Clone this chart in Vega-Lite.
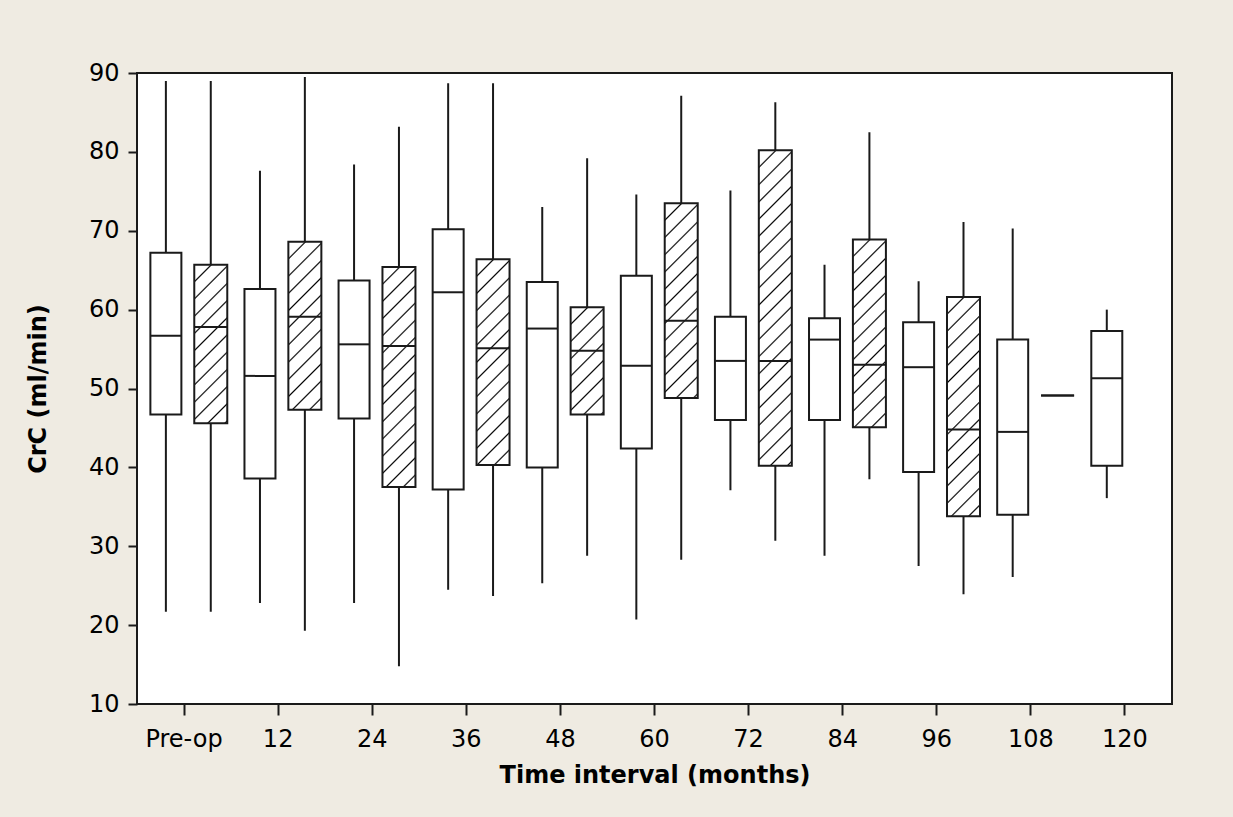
{
  "$schema": "https://vega.github.io/schema/vega-lite/v6.json",
  "usermeta": {"embedOptions": {"actions": false}},
  "autosize": {"type": "none"},
  "padding": {"left": 137, "top": 73, "right": 61, "bottom": 113},
  "width": 1035,
  "height": 631,
  "background": "#EFEBE2",
  "config": {
    "view": {"fill": "white", "stroke": "#1a1a1a", "strokeWidth": 2},
    "font": "DejaVu Sans",
    "axis": {
      "domain": false, "grid": false, "tickColor": "#1a1a1a", "tickWidth": 2,
      "labelFont": "DejaVu Sans", "labelFontSize": 24, "labelColor": "#000",
      "titleFont": "DejaVu Sans", "titleFontSize": 24, "titleFontWeight": "bold", "titleColor": "#000"
    }
  },
  "data": {"values": [
    {"interval": "Pre-op", "group": "A", "lower": 21.7, "q1": 46.7, "median": 56.7, "q3": 67.2, "upper": 89.0},
    {"interval": "Pre-op", "group": "B", "lower": 21.7, "q1": 45.6, "median": 57.8, "q3": 65.7, "upper": 89.0},
    {"interval": "12", "group": "A", "lower": 22.8, "q1": 38.6, "median": 51.6, "q3": 62.6, "upper": 77.6},
    {"interval": "12", "group": "B", "lower": 19.3, "q1": 47.3, "median": 59.1, "q3": 68.6, "upper": 89.5},
    {"interval": "24", "group": "A", "lower": 22.8, "q1": 46.2, "median": 55.6, "q3": 63.7, "upper": 78.4},
    {"interval": "24", "group": "B", "lower": 14.8, "q1": 37.5, "median": 55.4, "q3": 65.4, "upper": 83.2},
    {"interval": "36", "group": "A", "lower": 24.5, "q1": 37.2, "median": 62.2, "q3": 70.2, "upper": 88.7},
    {"interval": "36", "group": "B", "lower": 23.7, "q1": 40.3, "median": 55.1, "q3": 66.4, "upper": 88.7},
    {"interval": "48", "group": "A", "lower": 25.3, "q1": 40.0, "median": 57.6, "q3": 63.5, "upper": 73.0},
    {"interval": "48", "group": "B", "lower": 28.8, "q1": 46.7, "median": 54.8, "q3": 60.3, "upper": 79.2},
    {"interval": "60", "group": "A", "lower": 20.7, "q1": 42.4, "median": 52.9, "q3": 64.3, "upper": 74.6},
    {"interval": "60", "group": "B", "lower": 28.3, "q1": 48.8, "median": 58.6, "q3": 73.5, "upper": 87.1},
    {"interval": "72", "group": "A", "lower": 37.1, "q1": 46.0, "median": 53.5, "q3": 59.1, "upper": 75.1},
    {"interval": "72", "group": "B", "lower": 30.7, "q1": 40.2, "median": 53.5, "q3": 80.2, "upper": 86.3},
    {"interval": "84", "group": "A", "lower": 28.8, "q1": 46.0, "median": 56.2, "q3": 58.9, "upper": 65.7},
    {"interval": "84", "group": "B", "lower": 38.5, "q1": 45.1, "median": 53.0, "q3": 68.9, "upper": 82.5},
    {"interval": "96", "group": "A", "lower": 27.5, "q1": 39.4, "median": 52.7, "q3": 58.4, "upper": 63.6},
    {"interval": "96", "group": "B", "lower": 23.9, "q1": 33.8, "median": 44.8, "q3": 61.6, "upper": 71.1},
    {"interval": "108", "group": "A", "lower": 26.1, "q1": 34.0, "median": 44.5, "q3": 56.2, "upper": 70.3},
    {"interval": "108", "group": "B", "lower": 49.1, "q1": 49.1, "median": 49.1, "q3": 49.1, "upper": 49.1},
    {"interval": "120", "group": "A", "lower": 36.1, "q1": 40.2, "median": 51.3, "q3": 57.3, "upper": 60.0}
  ]},
  "encoding": {
    "x": {
      "field": "interval", "type": "ordinal",
      "sort": ["Pre-op", "12", "24", "36", "48", "60", "72", "84", "96", "108", "120"],
      "scale": {"paddingInner": 0, "paddingOuter": 0},
      "axis": {"title": "Time interval (months)", "labelAngle": 0, "tickSize": 11, "labelPadding": 12, "titlePadding": 12}
    },
    "xOffset": {
      "field": "group", "type": "nominal",
      "scale": {"domain": ["A", "B"], "paddingInner": 0.5, "paddingOuter": 0.298, "align": 0.66}
    }
  },
  "layer": [
    {
      "mark": {"type": "rule", "color": "#1a1a1a", "strokeWidth": 2, "opacity": 1},
      "encoding": {
        "y": {"field": "lower", "type": "quantitative", "title": "CrC (ml/min)",
              "scale": {"domain": [10, 90], "nice": false, "zero": false},
              "axis": {"values": [10, 20, 30, 40, 50, 60, 70, 80, 90], "tickSize": 9, "labelPadding": 9, "titlePadding": 38}},
        "y2": {"field": "upper"}
      }
    },
    {
      "transform": [{"filter": "datum.group === 'A'"}],
      "mark": {"type": "bar", "width": 31, "fill": "white", "stroke": "#1a1a1a", "strokeWidth": 2, "opacity": 1},
      "encoding": {
        "y": {"field": "q1", "type": "quantitative", "title": "CrC (ml/min)"},
        "y2": {"field": "q3"}
      }
    },
    {
      "transform": [{"filter": "datum.group === 'B'"}],
      "mark": {"type": "bar", "width": 33, "stroke": "#1a1a1a", "strokeWidth": 2, "opacity": 1},
      "encoding": {
        "y": {"field": "q1", "type": "quantitative", "title": "CrC (ml/min)"},
        "y2": {"field": "q3"},
        "fill": {
          "condition": [
            {"test": "datum.interval === 'Pre-op'", "value": {"gradient": "linear", "x1": 0, "y1": 0, "x2": 0.4545, "y2": 2.1837, "stops": [{"offset":0.0431,"color":"#fff"},{"offset":0.0476,"color":"#000"},{"offset":0.0521,"color":"#fff"},{"offset":0.0907,"color":"#fff"},{"offset":0.0952,"color":"#000"},{"offset":0.0997,"color":"#fff"},{"offset":0.1384,"color":"#fff"},{"offset":0.1429,"color":"#000"},{"offset":0.1474,"color":"#fff"},{"offset":0.186,"color":"#fff"},{"offset":0.1905,"color":"#000"},{"offset":0.195,"color":"#fff"},{"offset":0.2336,"color":"#fff"},{"offset":0.2381,"color":"#000"},{"offset":0.2426,"color":"#fff"},{"offset":0.2812,"color":"#fff"},{"offset":0.2857,"color":"#000"},{"offset":0.2902,"color":"#fff"},{"offset":0.3288,"color":"#fff"},{"offset":0.3333,"color":"#000"},{"offset":0.3378,"color":"#fff"},{"offset":0.3765,"color":"#fff"},{"offset":0.381,"color":"#000"},{"offset":0.3855,"color":"#fff"},{"offset":0.4241,"color":"#fff"},{"offset":0.4286,"color":"#000"},{"offset":0.4331,"color":"#fff"},{"offset":0.4717,"color":"#fff"},{"offset":0.4762,"color":"#000"},{"offset":0.4807,"color":"#fff"},{"offset":0.5193,"color":"#fff"},{"offset":0.5238,"color":"#000"},{"offset":0.5283,"color":"#fff"},{"offset":0.5669,"color":"#fff"},{"offset":0.5714,"color":"#000"},{"offset":0.5759,"color":"#fff"},{"offset":0.6145,"color":"#fff"},{"offset":0.619,"color":"#000"},{"offset":0.6235,"color":"#fff"},{"offset":0.6622,"color":"#fff"},{"offset":0.6667,"color":"#000"},{"offset":0.6712,"color":"#fff"},{"offset":0.7098,"color":"#fff"},{"offset":0.7143,"color":"#000"},{"offset":0.7188,"color":"#fff"},{"offset":0.7574,"color":"#fff"},{"offset":0.7619,"color":"#000"},{"offset":0.7664,"color":"#fff"},{"offset":0.805,"color":"#fff"},{"offset":0.8095,"color":"#000"},{"offset":0.814,"color":"#fff"},{"offset":0.8526,"color":"#fff"},{"offset":0.8571,"color":"#000"},{"offset":0.8616,"color":"#fff"},{"offset":0.9003,"color":"#fff"},{"offset":0.9048,"color":"#000"},{"offset":0.9093,"color":"#fff"},{"offset":0.9479,"color":"#fff"},{"offset":0.9524,"color":"#000"},{"offset":0.9569,"color":"#fff"}]}},
            {"test": "datum.interval === '12'", "value": {"gradient": "linear", "x1": 0, "y1": 0, "x2": 0.4066, "y2": 2.0701, "stops": [{"offset":0.0431,"color":"#fff"},{"offset":0.0476,"color":"#000"},{"offset":0.0521,"color":"#fff"},{"offset":0.0907,"color":"#fff"},{"offset":0.0952,"color":"#000"},{"offset":0.0997,"color":"#fff"},{"offset":0.1384,"color":"#fff"},{"offset":0.1429,"color":"#000"},{"offset":0.1474,"color":"#fff"},{"offset":0.186,"color":"#fff"},{"offset":0.1905,"color":"#000"},{"offset":0.195,"color":"#fff"},{"offset":0.2336,"color":"#fff"},{"offset":0.2381,"color":"#000"},{"offset":0.2426,"color":"#fff"},{"offset":0.2812,"color":"#fff"},{"offset":0.2857,"color":"#000"},{"offset":0.2902,"color":"#fff"},{"offset":0.3288,"color":"#fff"},{"offset":0.3333,"color":"#000"},{"offset":0.3378,"color":"#fff"},{"offset":0.3765,"color":"#fff"},{"offset":0.381,"color":"#000"},{"offset":0.3855,"color":"#fff"},{"offset":0.4241,"color":"#fff"},{"offset":0.4286,"color":"#000"},{"offset":0.4331,"color":"#fff"},{"offset":0.4717,"color":"#fff"},{"offset":0.4762,"color":"#000"},{"offset":0.4807,"color":"#fff"},{"offset":0.5193,"color":"#fff"},{"offset":0.5238,"color":"#000"},{"offset":0.5283,"color":"#fff"},{"offset":0.5669,"color":"#fff"},{"offset":0.5714,"color":"#000"},{"offset":0.5759,"color":"#fff"},{"offset":0.6145,"color":"#fff"},{"offset":0.619,"color":"#000"},{"offset":0.6235,"color":"#fff"},{"offset":0.6622,"color":"#fff"},{"offset":0.6667,"color":"#000"},{"offset":0.6712,"color":"#fff"},{"offset":0.7098,"color":"#fff"},{"offset":0.7143,"color":"#000"},{"offset":0.7188,"color":"#fff"},{"offset":0.7574,"color":"#fff"},{"offset":0.7619,"color":"#000"},{"offset":0.7664,"color":"#fff"},{"offset":0.805,"color":"#fff"},{"offset":0.8095,"color":"#000"},{"offset":0.814,"color":"#fff"},{"offset":0.8526,"color":"#fff"},{"offset":0.8571,"color":"#000"},{"offset":0.8616,"color":"#fff"},{"offset":0.9003,"color":"#fff"},{"offset":0.9048,"color":"#000"},{"offset":0.9093,"color":"#fff"},{"offset":0.9479,"color":"#fff"},{"offset":0.9524,"color":"#000"},{"offset":0.9569,"color":"#fff"}]}},
            {"test": "datum.interval === '24'", "value": {"gradient": "linear", "x1": 0, "y1": 0, "x2": 0.2407, "y2": 1.6053, "stops": [{"offset":0.0431,"color":"#fff"},{"offset":0.0476,"color":"#000"},{"offset":0.0521,"color":"#fff"},{"offset":0.0907,"color":"#fff"},{"offset":0.0952,"color":"#000"},{"offset":0.0997,"color":"#fff"},{"offset":0.1384,"color":"#fff"},{"offset":0.1429,"color":"#000"},{"offset":0.1474,"color":"#fff"},{"offset":0.186,"color":"#fff"},{"offset":0.1905,"color":"#000"},{"offset":0.195,"color":"#fff"},{"offset":0.2336,"color":"#fff"},{"offset":0.2381,"color":"#000"},{"offset":0.2426,"color":"#fff"},{"offset":0.2812,"color":"#fff"},{"offset":0.2857,"color":"#000"},{"offset":0.2902,"color":"#fff"},{"offset":0.3288,"color":"#fff"},{"offset":0.3333,"color":"#000"},{"offset":0.3378,"color":"#fff"},{"offset":0.3765,"color":"#fff"},{"offset":0.381,"color":"#000"},{"offset":0.3855,"color":"#fff"},{"offset":0.4241,"color":"#fff"},{"offset":0.4286,"color":"#000"},{"offset":0.4331,"color":"#fff"},{"offset":0.4717,"color":"#fff"},{"offset":0.4762,"color":"#000"},{"offset":0.4807,"color":"#fff"},{"offset":0.5193,"color":"#fff"},{"offset":0.5238,"color":"#000"},{"offset":0.5283,"color":"#fff"},{"offset":0.5669,"color":"#fff"},{"offset":0.5714,"color":"#000"},{"offset":0.5759,"color":"#fff"},{"offset":0.6145,"color":"#fff"},{"offset":0.619,"color":"#000"},{"offset":0.6235,"color":"#fff"},{"offset":0.6622,"color":"#fff"},{"offset":0.6667,"color":"#000"},{"offset":0.6712,"color":"#fff"},{"offset":0.7098,"color":"#fff"},{"offset":0.7143,"color":"#000"},{"offset":0.7188,"color":"#fff"},{"offset":0.7574,"color":"#fff"},{"offset":0.7619,"color":"#000"},{"offset":0.7664,"color":"#fff"},{"offset":0.805,"color":"#fff"},{"offset":0.8095,"color":"#000"},{"offset":0.814,"color":"#fff"},{"offset":0.8526,"color":"#fff"},{"offset":0.8571,"color":"#000"},{"offset":0.8616,"color":"#fff"},{"offset":0.9003,"color":"#fff"},{"offset":0.9048,"color":"#000"},{"offset":0.9093,"color":"#fff"},{"offset":0.9479,"color":"#fff"},{"offset":0.9524,"color":"#000"},{"offset":0.9569,"color":"#fff"}]}},
            {"test": "datum.interval === '36'", "value": {"gradient": "linear", "x1": 0, "y1": 0, "x2": 0.2742, "y2": 1.7107, "stops": [{"offset":0.0431,"color":"#fff"},{"offset":0.0476,"color":"#000"},{"offset":0.0521,"color":"#fff"},{"offset":0.0907,"color":"#fff"},{"offset":0.0952,"color":"#000"},{"offset":0.0997,"color":"#fff"},{"offset":0.1384,"color":"#fff"},{"offset":0.1429,"color":"#000"},{"offset":0.1474,"color":"#fff"},{"offset":0.186,"color":"#fff"},{"offset":0.1905,"color":"#000"},{"offset":0.195,"color":"#fff"},{"offset":0.2336,"color":"#fff"},{"offset":0.2381,"color":"#000"},{"offset":0.2426,"color":"#fff"},{"offset":0.2812,"color":"#fff"},{"offset":0.2857,"color":"#000"},{"offset":0.2902,"color":"#fff"},{"offset":0.3288,"color":"#fff"},{"offset":0.3333,"color":"#000"},{"offset":0.3378,"color":"#fff"},{"offset":0.3765,"color":"#fff"},{"offset":0.381,"color":"#000"},{"offset":0.3855,"color":"#fff"},{"offset":0.4241,"color":"#fff"},{"offset":0.4286,"color":"#000"},{"offset":0.4331,"color":"#fff"},{"offset":0.4717,"color":"#fff"},{"offset":0.4762,"color":"#000"},{"offset":0.4807,"color":"#fff"},{"offset":0.5193,"color":"#fff"},{"offset":0.5238,"color":"#000"},{"offset":0.5283,"color":"#fff"},{"offset":0.5669,"color":"#fff"},{"offset":0.5714,"color":"#000"},{"offset":0.5759,"color":"#fff"},{"offset":0.6145,"color":"#fff"},{"offset":0.619,"color":"#000"},{"offset":0.6235,"color":"#fff"},{"offset":0.6622,"color":"#fff"},{"offset":0.6667,"color":"#000"},{"offset":0.6712,"color":"#fff"},{"offset":0.7098,"color":"#fff"},{"offset":0.7143,"color":"#000"},{"offset":0.7188,"color":"#fff"},{"offset":0.7574,"color":"#fff"},{"offset":0.7619,"color":"#000"},{"offset":0.7664,"color":"#fff"},{"offset":0.805,"color":"#fff"},{"offset":0.8095,"color":"#000"},{"offset":0.814,"color":"#fff"},{"offset":0.8526,"color":"#fff"},{"offset":0.8571,"color":"#000"},{"offset":0.8616,"color":"#fff"},{"offset":0.9003,"color":"#fff"},{"offset":0.9048,"color":"#000"},{"offset":0.9093,"color":"#fff"},{"offset":0.9479,"color":"#fff"},{"offset":0.9524,"color":"#000"},{"offset":0.9569,"color":"#fff"}]}},
            {"test": "datum.interval === '48'", "value": {"gradient": "linear", "x1": 0, "y1": 0, "x2": 0.9463, "y2": 3.0761, "stops": [{"offset":0.0431,"color":"#fff"},{"offset":0.0476,"color":"#000"},{"offset":0.0521,"color":"#fff"},{"offset":0.0907,"color":"#fff"},{"offset":0.0952,"color":"#000"},{"offset":0.0997,"color":"#fff"},{"offset":0.1384,"color":"#fff"},{"offset":0.1429,"color":"#000"},{"offset":0.1474,"color":"#fff"},{"offset":0.186,"color":"#fff"},{"offset":0.1905,"color":"#000"},{"offset":0.195,"color":"#fff"},{"offset":0.2336,"color":"#fff"},{"offset":0.2381,"color":"#000"},{"offset":0.2426,"color":"#fff"},{"offset":0.2812,"color":"#fff"},{"offset":0.2857,"color":"#000"},{"offset":0.2902,"color":"#fff"},{"offset":0.3288,"color":"#fff"},{"offset":0.3333,"color":"#000"},{"offset":0.3378,"color":"#fff"},{"offset":0.3765,"color":"#fff"},{"offset":0.381,"color":"#000"},{"offset":0.3855,"color":"#fff"},{"offset":0.4241,"color":"#fff"},{"offset":0.4286,"color":"#000"},{"offset":0.4331,"color":"#fff"},{"offset":0.4717,"color":"#fff"},{"offset":0.4762,"color":"#000"},{"offset":0.4807,"color":"#fff"}]}},
            {"test": "datum.interval === '60'", "value": {"gradient": "linear", "x1": 0, "y1": 0, "x2": 0.3053, "y2": 1.8023, "stops": [{"offset":0.0431,"color":"#fff"},{"offset":0.0476,"color":"#000"},{"offset":0.0521,"color":"#fff"},{"offset":0.0907,"color":"#fff"},{"offset":0.0952,"color":"#000"},{"offset":0.0997,"color":"#fff"},{"offset":0.1384,"color":"#fff"},{"offset":0.1429,"color":"#000"},{"offset":0.1474,"color":"#fff"},{"offset":0.186,"color":"#fff"},{"offset":0.1905,"color":"#000"},{"offset":0.195,"color":"#fff"},{"offset":0.2336,"color":"#fff"},{"offset":0.2381,"color":"#000"},{"offset":0.2426,"color":"#fff"},{"offset":0.2812,"color":"#fff"},{"offset":0.2857,"color":"#000"},{"offset":0.2902,"color":"#fff"},{"offset":0.3288,"color":"#fff"},{"offset":0.3333,"color":"#000"},{"offset":0.3378,"color":"#fff"},{"offset":0.3765,"color":"#fff"},{"offset":0.381,"color":"#000"},{"offset":0.3855,"color":"#fff"},{"offset":0.4241,"color":"#fff"},{"offset":0.4286,"color":"#000"},{"offset":0.4331,"color":"#fff"},{"offset":0.4717,"color":"#fff"},{"offset":0.4762,"color":"#000"},{"offset":0.4807,"color":"#fff"},{"offset":0.5193,"color":"#fff"},{"offset":0.5238,"color":"#000"},{"offset":0.5283,"color":"#fff"},{"offset":0.5669,"color":"#fff"},{"offset":0.5714,"color":"#000"},{"offset":0.5759,"color":"#fff"},{"offset":0.6145,"color":"#fff"},{"offset":0.619,"color":"#000"},{"offset":0.6235,"color":"#fff"},{"offset":0.6622,"color":"#fff"},{"offset":0.6667,"color":"#000"},{"offset":0.6712,"color":"#fff"}]}},
            {"test": "datum.interval === '72'", "value": {"gradient": "linear", "x1": 0, "y1": 0, "x2": 0.1185, "y2": 1.1325, "stops": [{"offset":0.0431,"color":"#fff"},{"offset":0.0476,"color":"#000"},{"offset":0.0521,"color":"#fff"},{"offset":0.0907,"color":"#fff"},{"offset":0.0952,"color":"#000"},{"offset":0.0997,"color":"#fff"},{"offset":0.1384,"color":"#fff"},{"offset":0.1429,"color":"#000"},{"offset":0.1474,"color":"#fff"},{"offset":0.186,"color":"#fff"},{"offset":0.1905,"color":"#000"},{"offset":0.195,"color":"#fff"},{"offset":0.2336,"color":"#fff"},{"offset":0.2381,"color":"#000"},{"offset":0.2426,"color":"#fff"},{"offset":0.2812,"color":"#fff"},{"offset":0.2857,"color":"#000"},{"offset":0.2902,"color":"#fff"},{"offset":0.3288,"color":"#fff"},{"offset":0.3333,"color":"#000"},{"offset":0.3378,"color":"#fff"},{"offset":0.3765,"color":"#fff"},{"offset":0.381,"color":"#000"},{"offset":0.3855,"color":"#fff"},{"offset":0.4241,"color":"#fff"},{"offset":0.4286,"color":"#000"},{"offset":0.4331,"color":"#fff"},{"offset":0.4717,"color":"#fff"},{"offset":0.4762,"color":"#000"},{"offset":0.4807,"color":"#fff"},{"offset":0.5193,"color":"#fff"},{"offset":0.5238,"color":"#000"},{"offset":0.5283,"color":"#fff"},{"offset":0.5669,"color":"#fff"},{"offset":0.5714,"color":"#000"},{"offset":0.5759,"color":"#fff"},{"offset":0.6145,"color":"#fff"},{"offset":0.619,"color":"#000"},{"offset":0.6235,"color":"#fff"},{"offset":0.6622,"color":"#fff"},{"offset":0.6667,"color":"#000"},{"offset":0.6712,"color":"#fff"},{"offset":0.7098,"color":"#fff"},{"offset":0.7143,"color":"#000"},{"offset":0.7188,"color":"#fff"},{"offset":0.7574,"color":"#fff"},{"offset":0.7619,"color":"#000"},{"offset":0.7664,"color":"#fff"},{"offset":0.805,"color":"#fff"},{"offset":0.8095,"color":"#000"},{"offset":0.814,"color":"#fff"},{"offset":0.8526,"color":"#fff"},{"offset":0.8571,"color":"#000"},{"offset":0.8616,"color":"#fff"},{"offset":0.9003,"color":"#fff"},{"offset":0.9048,"color":"#000"},{"offset":0.9093,"color":"#fff"},{"offset":0.9479,"color":"#fff"},{"offset":0.9524,"color":"#000"},{"offset":0.9569,"color":"#fff"}]}},
            {"test": "datum.interval === '84'", "value": {"gradient": "linear", "x1": 0, "y1": 0, "x2": 0.3281, "y2": 1.8665, "stops": [{"offset":0.0431,"color":"#fff"},{"offset":0.0476,"color":"#000"},{"offset":0.0521,"color":"#fff"},{"offset":0.0907,"color":"#fff"},{"offset":0.0952,"color":"#000"},{"offset":0.0997,"color":"#fff"},{"offset":0.1384,"color":"#fff"},{"offset":0.1429,"color":"#000"},{"offset":0.1474,"color":"#fff"},{"offset":0.186,"color":"#fff"},{"offset":0.1905,"color":"#000"},{"offset":0.195,"color":"#fff"},{"offset":0.2336,"color":"#fff"},{"offset":0.2381,"color":"#000"},{"offset":0.2426,"color":"#fff"},{"offset":0.2812,"color":"#fff"},{"offset":0.2857,"color":"#000"},{"offset":0.2902,"color":"#fff"},{"offset":0.3288,"color":"#fff"},{"offset":0.3333,"color":"#000"},{"offset":0.3378,"color":"#fff"},{"offset":0.3765,"color":"#fff"},{"offset":0.381,"color":"#000"},{"offset":0.3855,"color":"#fff"},{"offset":0.4241,"color":"#fff"},{"offset":0.4286,"color":"#000"},{"offset":0.4331,"color":"#fff"},{"offset":0.4717,"color":"#fff"},{"offset":0.4762,"color":"#000"},{"offset":0.4807,"color":"#fff"},{"offset":0.5193,"color":"#fff"},{"offset":0.5238,"color":"#000"},{"offset":0.5283,"color":"#fff"},{"offset":0.5669,"color":"#fff"},{"offset":0.5714,"color":"#000"},{"offset":0.5759,"color":"#fff"},{"offset":0.6145,"color":"#fff"},{"offset":0.619,"color":"#000"},{"offset":0.6235,"color":"#fff"}]}},
            {"test": "datum.interval === '96'", "value": {"gradient": "linear", "x1": 0, "y1": 0, "x2": 0.2424, "y2": 1.6108, "stops": [{"offset":0.0431,"color":"#fff"},{"offset":0.0476,"color":"#000"},{"offset":0.0521,"color":"#fff"},{"offset":0.0907,"color":"#fff"},{"offset":0.0952,"color":"#000"},{"offset":0.0997,"color":"#fff"},{"offset":0.1384,"color":"#fff"},{"offset":0.1429,"color":"#000"},{"offset":0.1474,"color":"#fff"},{"offset":0.186,"color":"#fff"},{"offset":0.1905,"color":"#000"},{"offset":0.195,"color":"#fff"},{"offset":0.2336,"color":"#fff"},{"offset":0.2381,"color":"#000"},{"offset":0.2426,"color":"#fff"},{"offset":0.2812,"color":"#fff"},{"offset":0.2857,"color":"#000"},{"offset":0.2902,"color":"#fff"},{"offset":0.3288,"color":"#fff"},{"offset":0.3333,"color":"#000"},{"offset":0.3378,"color":"#fff"},{"offset":0.3765,"color":"#fff"},{"offset":0.381,"color":"#000"},{"offset":0.3855,"color":"#fff"},{"offset":0.4241,"color":"#fff"},{"offset":0.4286,"color":"#000"},{"offset":0.4331,"color":"#fff"},{"offset":0.4717,"color":"#fff"},{"offset":0.4762,"color":"#000"},{"offset":0.4807,"color":"#fff"},{"offset":0.5193,"color":"#fff"},{"offset":0.5238,"color":"#000"},{"offset":0.5283,"color":"#fff"},{"offset":0.5669,"color":"#fff"},{"offset":0.5714,"color":"#000"},{"offset":0.5759,"color":"#fff"},{"offset":0.6145,"color":"#fff"},{"offset":0.619,"color":"#000"},{"offset":0.6235,"color":"#fff"},{"offset":0.6622,"color":"#fff"},{"offset":0.6667,"color":"#000"},{"offset":0.6712,"color":"#fff"},{"offset":0.7098,"color":"#fff"},{"offset":0.7143,"color":"#000"},{"offset":0.7188,"color":"#fff"}]}}
          ],
          "value": "white"
        }
      }
    },
    {
      "transform": [{"filter": "datum.group === 'A'"}],
      "mark": {"type": "tick", "size": 31, "thickness": 2, "color": "#1a1a1a", "opacity": 1},
      "encoding": {"y": {"field": "median", "type": "quantitative", "title": "CrC (ml/min)"}}
    },
    {
      "transform": [{"filter": "datum.group === 'B'"}],
      "mark": {"type": "tick", "size": 33, "thickness": 2, "color": "#1a1a1a", "opacity": 1},
      "encoding": {"y": {"field": "median", "type": "quantitative", "title": "CrC (ml/min)"}}
    }
  ]
}
